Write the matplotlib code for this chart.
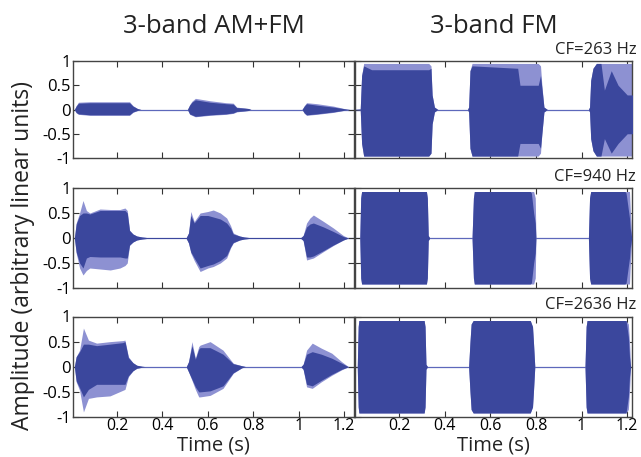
#!/usr/bin/env python3
"""Waveforms of a 3-band vocoded sentence: AM+FM (left) vs FM only (right).

Each panel is drawn as its amplitude envelope read off the original figure:
the outer envelope (light) and the dense core of the carrier (dark).
"""
import matplotlib
matplotlib.use("Agg")
import matplotlib.pyplot as plt

# --- 3-band AM+FM, CF=263 Hz ---
amfm1_t = [0.0, 0.012, 0.02, 0.03, 0.08, 0.15, 0.22, 0.255, 0.27, 0.29, 0.305,
           0.51, 0.52, 0.53, 0.545, 0.61, 0.68, 0.712, 0.727, 0.76, 0.78, 0.79,
           1.015, 1.025, 1.035, 1.08, 1.153, 1.21, 1.225, 1.24]
amfm1_hi = [0, 0, 0.08, 0.15, 0.16, 0.16, 0.16, 0.16, 0.08, 0.02, 0,
            0, 0.1, 0.17, 0.23, 0.18, 0.14, 0.13, 0.05, 0.03, 0.02, 0,
            0, 0.08, 0.14, 0.12, 0.07, 0.01, 0, 0]
amfm1_lo = [0, 0, -0.07, -0.1, -0.12, -0.12, -0.12, -0.12, -0.06, -0.02, 0,
            0, -0.1, -0.12, -0.15, -0.12, -0.1, -0.08, -0.05, -0.03, -0.02, 0,
            0, -0.08, -0.12, -0.1, -0.06, -0.01, 0, 0]
amfm1_hi_core = [0, 0, 0.07, 0.13, 0.14, 0.14, 0.14, 0.14, 0.07, 0.02, 0,
                 0, 0.09, 0.15, 0.2, 0.15, 0.12, 0.11, 0.04, 0.03, 0.02, 0,
                 0, 0.07, 0.12, 0.09, 0.05, 0.01, 0, 0]
amfm1_lo_core = [0, 0, -0.06, -0.09, -0.11, -0.11, -0.11, -0.11, -0.05, -0.02, 0,
                 0, -0.09, -0.11, -0.14, -0.11, -0.09, -0.07, -0.04, -0.03, -0.02, 0,
                 0, -0.07, -0.11, -0.09, -0.05, -0.01, 0, 0]

# --- 3-band AM+FM, CF=940 Hz ---
amfm2_t = [0.0, 0.012, 0.02, 0.035, 0.05, 0.065, 0.08, 0.125, 0.17, 0.213, 0.235,
           0.245, 0.255, 0.27, 0.287, 0.31, 0.33,
           0.505, 0.515, 0.525, 0.54, 0.566, 0.6, 0.624, 0.655, 0.683, 0.7, 0.712,
           0.74, 0.76, 0.78,
           1.01, 1.02, 1.035, 1.05, 1.065, 1.11, 1.153, 1.197, 1.22, 1.24]
amfm2_hi = [0, 0, 0.3, 0.5, 0.75, 0.55, 0.5, 0.58, 0.57, 0.57, 0.6,
            0.55, 0.16, 0.08, 0.04, 0.02, 0.01,
            0.01, 0.1, 0.53, 0.33, 0.5, 0.53, 0.56, 0.5, 0.4, 0.25, 0.1,
            0.04, 0.02, 0.01,
            0.01, 0.05, 0.3, 0.4, 0.46, 0.33, 0.2, 0.05, 0, 0]
amfm2_lo = [0, 0, -0.3, -0.6, -0.74, -0.65, -0.6, -0.62, -0.64, -0.6, -0.55,
            -0.5, -0.15, -0.08, -0.04, -0.02, -0.01,
            -0.01, -0.1, -0.3, -0.45, -0.67, -0.6, -0.57, -0.5, -0.4, -0.2, -0.1,
            -0.04, -0.02, -0.01,
            -0.01, -0.05, -0.44, -0.42, -0.4, -0.27, -0.15, -0.04, 0, 0]
amfm2_hi_core = [0, 0, 0.28, 0.45, 0.5, 0.5, 0.48, 0.55, 0.55, 0.55, 0.55,
                 0.5, 0.15, 0.08, 0.04, 0.02, 0.01,
                 0.01, 0.1, 0.45, 0.3, 0.45, 0.45, 0.42, 0.38, 0.3, 0.2, 0.08,
                 0.04, 0.02, 0.01,
                 0.01, 0.05, 0.22, 0.28, 0.3, 0.22, 0.13, 0.03, 0, 0]
amfm2_lo_core = [0, 0, -0.28, -0.5, -0.6, -0.4, -0.37, -0.38, -0.38, -0.38, -0.4,
                 -0.4, -0.14, -0.08, -0.04, -0.02, -0.01,
                 -0.01, -0.1, -0.28, -0.4, -0.6, -0.55, -0.52, -0.45, -0.35, -0.18, -0.09,
                 -0.04, -0.02, -0.01,
                 -0.01, -0.05, -0.38, -0.38, -0.36, -0.25, -0.14, -0.04, 0, 0]

# --- 3-band AM+FM, CF=2636 Hz ---
amfm3_t = [0.0, 0.012, 0.02, 0.035, 0.052, 0.074, 0.11, 0.169, 0.225, 0.235, 0.25,
           0.27, 0.287, 0.31, 0.33,
           0.505, 0.515, 0.53, 0.545, 0.56, 0.566, 0.61, 0.667, 0.712, 0.75, 0.77,
           1.01, 1.02, 1.035, 1.06, 1.1, 1.146, 1.19, 1.22, 1.24]
amfm3_hi = [0, 0, 0.2, 0.33, 0.77, 0.53, 0.47, 0.5, 0.52, 0.53, 0.2,
            0.08, 0.03, 0.01, 0,
            0, 0.1, 0.5, 0.17, 0.4, 0.43, 0.5, 0.33, 0.07, 0.02, 0,
            0, 0.05, 0.33, 0.47, 0.37, 0.27, 0.1, 0, 0]
amfm3_lo = [0, 0, -0.3, -0.47, -0.9, -0.63, -0.6, -0.58, -0.47, -0.45, -0.2,
            -0.08, -0.03, -0.01, 0,
            0, -0.1, -0.27, -0.45, -0.6, -0.6, -0.57, -0.43, -0.13, -0.02, 0,
            0, -0.05, -0.4, -0.43, -0.3, -0.17, -0.06, 0, 0]
amfm3_hi_core = [0, 0, 0.2, 0.3, 0.45, 0.45, 0.42, 0.45, 0.48, 0.5, 0.18,
                 0.08, 0.03, 0.01, 0,
                 0, 0.1, 0.42, 0.15, 0.35, 0.38, 0.38, 0.25, 0.06, 0.02, 0,
                 0, 0.05, 0.25, 0.3, 0.25, 0.17, 0.07, 0, 0]
amfm3_lo_core = [0, 0, -0.28, -0.42, -0.6, -0.45, -0.35, -0.35, -0.35, -0.35, -0.18,
                 -0.08, -0.03, -0.01, 0,
                 0, -0.1, -0.25, -0.4, -0.5, -0.5, -0.48, -0.38, -0.12, -0.02, 0,
                 0, -0.05, -0.35, -0.38, -0.27, -0.15, -0.05, 0, 0]

# --- 3-band FM, CF=263 Hz ---
fm1_t = [0.0, 0.03, 0.036, 0.045, 0.08, 0.33, 0.34, 0.345, 0.355, 0.37,
         0.50, 0.505, 0.511, 0.52, 0.72, 0.73, 0.81, 0.82, 0.826, 0.835, 0.85,
         1.03, 1.035, 1.04, 1.05, 1.065, 1.085, 1.1, 1.13, 1.16, 1.2, 1.225]
fm1_hi = [0, 0.01, 0.7, 0.95, 0.95, 0.95, 0.9, 0.3, 0.05, 0,
          0, 0.05, 0.8, 0.95, 0.95, 0.95, 0.95, 0.9, 0.5, 0.05, 0,
          0, 0.05, 0.6, 0.85, 0.95, 0.95, 0.95, 0.95, 0.95, 0.95, 0.95]
fm1_lo = [0, -0.01, -0.7, -0.96, -0.96, -0.96, -0.9, -0.3, -0.05, 0,
          0, -0.05, -0.8, -0.96, -0.96, -0.96, -0.96, -0.9, -0.5, -0.05, 0,
          0, -0.05, -0.6, -0.85, -0.96, -0.96, -0.96, -0.96, -0.96, -0.96, -0.96]
fm1_hi_core = [0, 0.01, 0.7, 0.9, 0.82, 0.82, 0.85, 0.3, 0.05, 0,
               0, 0.05, 0.8, 0.9, 0.85, 0.5, 0.5, 0.7, 0.45, 0.05, 0,
               0, 0.05, 0.6, 0.85, 0.95, 0.95, 0.4, 0.8, 0.5, 0.3, 0.3]
fm1_lo_core = [0, -0.01, -0.7, -0.96, -0.96, -0.96, -0.9, -0.3, -0.05, 0,
               0, -0.05, -0.8, -0.96, -0.96, -0.7, -0.7, -0.8, -0.5, -0.05, 0,
               0, -0.05, -0.6, -0.85, -0.96, -0.96, -0.6, -0.9, -0.7, -0.5, -0.5]

# --- 3-band FM, CF=940 Hz ---
fm2_t = [0.0, 0.028, 0.032, 0.036, 0.32, 0.324, 0.328, 0.335,
         0.52, 0.526, 0.53, 0.775, 0.78, 0.79, 0.797, 0.80,
         1.03, 1.035, 1.04, 1.19, 1.195, 1.21, 1.213, 1.22]
fm2_hi = [0, 0, 0.8, 0.93, 0.93, 0.8, 0.05, 0,
          0, 0.8, 0.93, 0.93, 0.93, 0.93, 0.8, 0,
          0, 0.8, 0.93, 0.93, 0.93, 0.93, 0.6, 0]
fm2_lo = [0, 0, -0.8, -0.92, -0.92, -0.8, -0.05, 0,
          0, -0.8, -0.92, -0.92, -0.92, -0.92, -0.8, 0,
          0, -0.8, -0.92, -0.92, -0.92, -0.92, -0.6, 0]
fm2_hi_core = [0, 0, 0.8, 0.93, 0.93, 0.8, 0.05, 0,
               0, 0.8, 0.93, 0.93, 0.9, 0.5, 0.3, 0,
               0, 0.8, 0.93, 0.93, 0.9, 0.4, 0.2, 0]
fm2_lo_core = [0, 0, -0.8, -0.92, -0.92, -0.8, -0.05, 0,
               0, -0.8, -0.92, -0.92, -0.9, -0.5, -0.3, 0,
               0, -0.8, -0.92, -0.92, -0.9, -0.4, -0.2, 0]

# --- 3-band FM, CF=2636 Hz ---
fm3_t = [0.0, 0.017, 0.021, 0.024, 0.31, 0.314, 0.318, 0.325,
         0.505, 0.511, 0.516, 0.525, 0.775, 0.785, 0.789, 0.795,
         1.015, 1.02, 1.024, 1.195, 1.205, 1.21, 1.215]
fm3_hi = [0, 0, 0.8, 0.92, 0.92, 0.8, 0.05, 0,
          0, 0.5, 0.85, 0.92, 0.92, 0.8, 0.5, 0,
          0, 0.8, 0.92, 0.92, 0.85, 0.5, 0]
fm3_lo = [0, 0, -0.8, -0.92, -0.92, -0.8, -0.05, 0,
          0, -0.5, -0.85, -0.92, -0.92, -0.8, -0.5, 0,
          0, -0.8, -0.92, -0.92, -0.85, -0.5, 0]
fm3_hi_core = [0, 0, 0.8, 0.92, 0.92, 0.8, 0.05, 0,
               0, 0.5, 0.85, 0.92, 0.92, 0.8, 0.5, 0,
               0, 0.8, 0.92, 0.92, 0.6, 0.2, 0]
fm3_lo_core = [0, 0, -0.8, -0.92, -0.92, -0.8, -0.05, 0,
               0, -0.5, -0.85, -0.92, -0.92, -0.8, -0.5, 0,
               0, -0.8, -0.92, -0.92, -0.6, -0.2, 0]

cf_labels = ["CF=263 Hz", "CF=940 Hz", "CF=2636 Hz"]
col_titles = ["3-band AM+FM", "3-band FM"]
x_ticks = [0.2, 0.4, 0.6, 0.8, 1.0, 1.2]
x_ticklabels = ["0.2", "0.4", "0.6", "0.8", "1", "1.2"]
y_ticks = [-1, -0.5, 0, 0.5, 1]
y_ticklabels = ["-1", "-0.5", "0", "0.5", "1"]

DARK = "#3b479d"
LIGHT = "#8d91d2"
MID = "#5d68bb"
FONT = "Open Sans"


def draw_panel(ax, t, hi, lo, hi_core, lo_core):
    ax.axhline(0, color=MID, lw=0.9, zorder=1)
    ax.fill_between(t, lo, hi, color=LIGHT, lw=0, zorder=2)
    ax.fill_between(t, lo_core, hi_core, color=DARK, lw=0, zorder=3)


def style_axes(ax, xlim, show_y, show_x):
    ax.set_xlim(*xlim)
    ax.set_ylim(-1, 1)
    ax.set_xticks(x_ticks)
    ax.set_yticks(y_ticks)
    ax.set_xticklabels(x_ticklabels if show_x else [])
    ax.set_yticklabels(y_ticklabels if show_y else [])
    ax.tick_params(direction="in", top=True, right=True, length=4, width=0.8,
                   color="#333333", labelsize=12, pad=1.5)
    ax.tick_params(axis="x", labelsize=11.5, pad=0.5)
    for lab in ax.get_xticklabels() + ax.get_yticklabels():
        lab.set_family(FONT)
    for sp in ax.spines.values():
        sp.set_color("#444444")
        sp.set_linewidth(1.0)


def main():
    plt.rcParams["axes.unicode_minus"] = False
    plt.rcParams["font.family"] = FONT

    fig = plt.figure(figsize=(6.41, 4.57), dpi=100)
    W, H = 641.0, 457.0
    cols = [(73, 354), (355, 632)]
    rows = [(61, 158), (188, 288), (316.5, 417)]
    xlims = [(0.006, 1.244), (0.007, 1.221)]

    left_data = [
        (amfm1_t, amfm1_hi, amfm1_lo, amfm1_hi_core, amfm1_lo_core),
        (amfm2_t, amfm2_hi, amfm2_lo, amfm2_hi_core, amfm2_lo_core),
        (amfm3_t, amfm3_hi, amfm3_lo, amfm3_hi_core, amfm3_lo_core),
    ]
    right_data = [
        (fm1_t, fm1_hi, fm1_lo, fm1_hi_core, fm1_lo_core),
        (fm2_t, fm2_hi, fm2_lo, fm2_hi_core, fm2_lo_core),
        (fm3_t, fm3_hi, fm3_lo, fm3_hi_core, fm3_lo_core),
    ]

    for c, (x0, x1) in enumerate(cols):
        data = left_data if c == 0 else right_data
        for r, (y0, y1) in enumerate(rows):
            ax = fig.add_axes([x0 / W, 1 - y1 / H, (x1 - x0) / W, (y1 - y0) / H])
            draw_panel(ax, *data[r])
            style_axes(ax, xlims[c], show_y=(c == 0), show_x=(r == 2))
            if r == 0:
                ax.set_title(col_titles[c], fontsize=18.5, pad=20, color="#222222")
            if c == 1:
                ax.text(1.015, 1.03, cf_labels[r], transform=ax.transAxes,
                        ha="right", va="bottom", fontsize=12, color="#222222")
        # column x label sits just under the tick labels of the bottom row
        fig.text((x0 + x1) / 2 / W, 1.0 / H, "Time (s)", ha="center", va="bottom",
                 fontsize=14.5, color="#222222")

    fig.text(0.036, 0.442, "Amplitude (arbitrary linear units)", rotation=90,
             ha="center", va="center", fontsize=16.5, color="#222222")

    fig.savefig("out.png", dpi=100)


if __name__ == "__main__":
    main()
